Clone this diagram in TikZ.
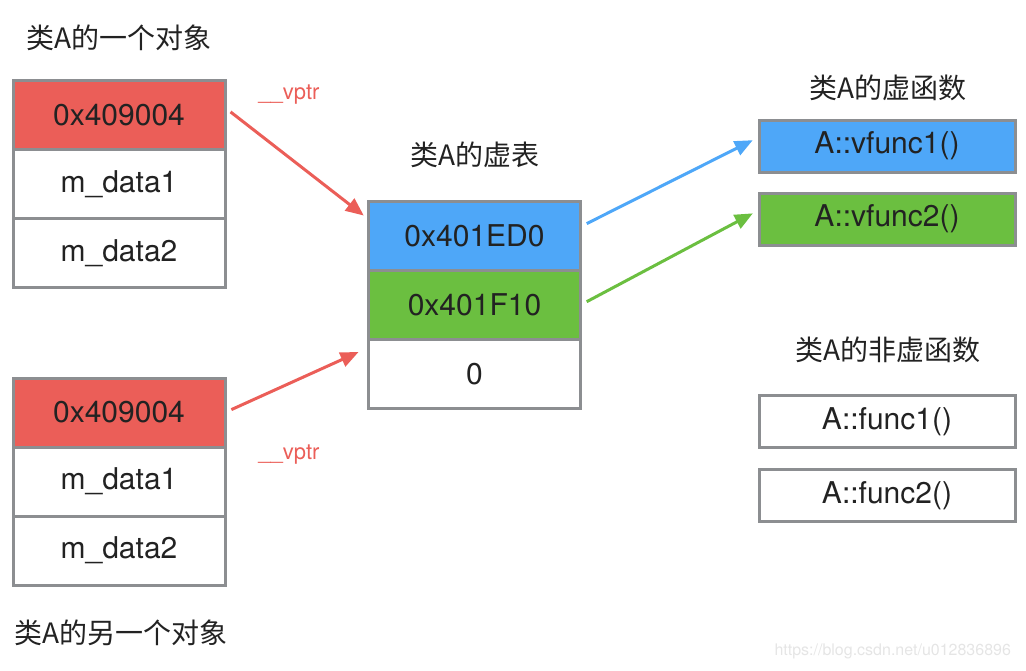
\documentclass[tikz,border=0pt]{standalone}
\usepackage{fontspec}
\setmainfont{TeX Gyre Heros}
\newfontfamily\cjk{Noto Sans CJK SC}
\usepackage{tikz}
\usetikzlibrary{positioning}
\usetikzlibrary{arrows.meta}

\definecolor{slotred}{HTML}{EB5E58}
\definecolor{slotblue}{HTML}{4EA7F8}
\definecolor{slotgreen}{HTML}{6BBF40}
\definecolor{slotgray}{HTML}{8C8E91}
\definecolor{inkgray}{HTML}{222222}

\begin{document}
\begin{tikzpicture}
		[x=0.5pt, y=-0.5pt,
		slot/.style={rectangle, draw=slotgray, line width=1.5pt, fill=white, outer sep=0pt,
			minimum width=106pt, minimum height=34.5pt, text=inkgray, font=\fontsize{15}{18}\selectfont},
		func/.style={slot, minimum width=128pt, minimum height=26pt},
		title/.style={text=inkgray, font=\fontsize{14}{17}\selectfont\cjk},
		ptr/.style={line width=1.5pt, -{Triangle[length=9pt, width=7.5pt]}, shorten <=3.5pt},
		ptrlabel/.style={text=slotred, font=\fontsize{11}{13}\selectfont}]
		\useasboundingbox (0,0) rectangle (1026,670);

		% first object
		\node[title] (titleA) at (119,38) {类A的一个对象};
		\node[slot, fill=slotred] (ptrA) at (119,115) {0x409004};
		\node[slot, below=0pt of ptrA] (dataA1) {m\_data1};
		\node[slot, below=0pt of dataA1] (dataA2) {m\_data2};

		% second object
		\node[slot, fill=slotred] (ptrB) at (119,412.5) {0x409004};
		\node[slot, below=0pt of ptrB] (dataB1) {m\_data1};
		\node[slot, below=0pt of dataB1] (dataB2) {m\_data2};
		\node[title] (titleB) at (121,633) {类A的另一个对象};

		% vtable
		\node[title] (titleV) at (475,155) {类A的虚表};
		\node[slot, fill=slotblue] (vt1) at (474.5,236) {0x401ED0};
		\node[slot, fill=slotgreen, below=0pt of vt1] (vt2) {0x401F10};
		\node[slot, below=0pt of vt2] (vt3) {0};

		% virtual functions
		\node[title] (titleF) at (888,88) {类A的虚函数};
		\node[func, fill=slotblue] (vf1) at (887,146) {A::vfunc1()};
		\node[func, fill=slotgreen, below=10.5pt of vf1] (vf2) {A::vfunc2()};

		% non-virtual functions
		\node[title] (titleN) at (888,350) {类A的非虚函数};
		\node[func] (nf1) at (887,421.5) {A::func1()};
		\node[func, below=11pt of nf1] (nf2) {A::func2()};

		\node[ptrlabel] (vptrA) at (289,95) {\_\_vptr};
		\node[ptrlabel] (vptrB) at (289,455) {\_\_vptr};

		\draw[ptr, slotred, shorten >=3pt] (ptrA.4) -- (vt1.171);
		\draw[ptr, slotred, shorten >=5.5pt] (ptrB.east) -- (vt3.166);
		\draw[ptr, slotblue, shorten >=3.5pt] (vt1.5) -- (vf1.176);
		\draw[ptr, slotgreen, shorten >=3.5pt] (vt2.east) -- (vf2.176);

		\node[anchor=east, text=black!10, font=\fontsize{8}{10}\selectfont] (mark) at (1018,651) {https://blog.csdn.net/u012836896};
	\end{tikzpicture}
\end{document}
